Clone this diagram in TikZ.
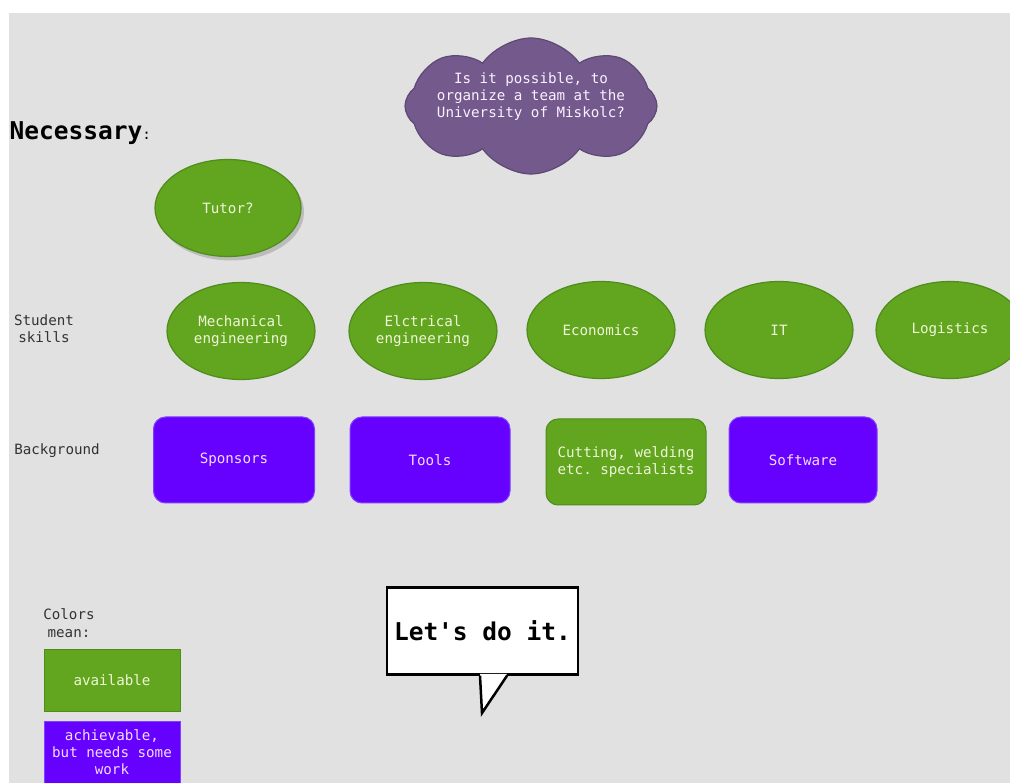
\documentclass[tikz,border=0pt]{standalone}
\usepackage{fontspec}
\setmonofont{DejaVu Sans Mono}
\usetikzlibrary{shapes.geometric,shapes.symbols,shadows,calc}

\definecolor{bgGray}{HTML}{E1E1E1}
\definecolor{okGreen}{HTML}{62A51E}
\definecolor{okGreenLine}{HTML}{4E8C1C}
\definecolor{workViolet}{HTML}{6600FF}
\definecolor{workVioletLine}{HTML}{8040FF}
\definecolor{cloudPurple}{HTML}{745A8C}
\definecolor{cloudLine}{HTML}{5E4874}
\definecolor{greenText}{HTML}{EEF6D8}
\definecolor{violetText}{HTML}{F2DDFF}
\definecolor{labelText}{HTML}{333333}

\begin{document}
\begin{tikzpicture}[
    x=1pt, y=-1pt, every node/.style={font=\ttfamily\fontsize{14.2}{17}\selectfont},
    skillNode/.style={ellipse, draw=okGreenLine, fill=okGreen, line width=1.2pt, minimum width=148pt, minimum height=97pt, text=greenText, align=center, inner sep=0pt},
    bgNode/.style={rectangle, rounded corners=12pt, draw=workVioletLine, fill=workViolet, line width=1pt, minimum width=160pt, minimum height=86pt, text=violetText, align=center},
    bgDone/.style={bgNode, draw=okGreenLine, fill=okGreen, text=greenText},
    legendBox/.style={rectangle, draw=okGreenLine, fill=okGreen, line width=1pt, minimum width=136pt, minimum height=62pt, text=greenText, align=center, inner sep=0pt},
    sideLabel/.style={text=labelText, align=center},
    cloudNode/.style={cloud, cloud puffs=8, cloud puff arc=110, aspect=1.9, draw=cloudLine, fill=cloudPurple, line width=1.2pt, minimum width=252pt, minimum height=136pt, inner sep=0pt},
    bubbleBox/.style={rectangle, draw=black, fill=white, line width=2.5pt, minimum width=191pt, minimum height=87pt, font=\ttfamily\bfseries\fontsize{24.5}{27}\selectfont}
]
    \useasboundingbox (0,0) rectangle (1010,783);
    \fill[bgGray] (9,13) rectangle (1010,783);

    \node[cloudNode, shape border rotate=10] (question) at (531,106) {};
    \node[text=violetText!40!white, align=center] (questionText) at (531,97) {Is it possible, to\\organize a team at the\\University of Miskolc?};

    \node[anchor=west, font=\ttfamily\bfseries\fontsize{24.5}{27}\selectfont] (necessary) at (6,133) {Necessary\textmd{\fontsize{14.2}{15}\selectfont:}};

    \node[skillNode, minimum width=146pt, drop shadow={shadow xshift=3pt, shadow yshift=-4pt, fill=black!40, opacity=.5}] (tutor) at (228,208) {Tutor?};

    \node[sideLabel] (skillsLabel) at (44,329) {Student\\skills};
    \node[skillNode] (mech) at (241,331) {Mechanical\\engineering};
    \node[skillNode] (elec) at (423,331) {Elctrical\\engineering};
    \node[skillNode] (econ) at (601,330) {Economics};
    \node[skillNode] (it) at (779,330) {IT};
    \node[skillNode] (logistics) at (950,330) {Logistics};

    \node[sideLabel] (bgLabel) at (57,451) {Background};
    \node[bgNode, minimum width=161pt] (sponsors) at (234,460) {Sponsors};
    \node[bgNode] (tools) at (430,460) {Tools};
    \node[bgDone] (cutting) at (626,462) {Cutting, welding\\etc. specialists};
    \node[bgNode, minimum width=148pt] (software) at (803,460) {Software};

    \node[sideLabel, font=\ttfamily\fontsize{14.2}{18}\selectfont] (colorsLabel) at (69,623) {Colors\\mean:};
    \node[legendBox] (available) at (112,680) {available};
    \node[legendBox, draw=workVioletLine, fill=workViolet, text=violetText] (achievable) at (112,752) {achievable,\\but needs some\\work};

    \node[bubbleBox] (letsDo) at (482.5,631) {Let's do it.};
    \coordinate (tailTip) at (482,713);
    \fill[white] ($(letsDo.south)+(-2.5,-2)$) -- (tailTip) -- ($(letsDo.south)+(24.5,-2)$) -- cycle;
    \draw[line width=2.5pt] ($(letsDo.south)+(-2.5,0)$) -- (tailTip) -- ($(letsDo.south)+(24.5,0)$);
\end{tikzpicture}
\end{document}
